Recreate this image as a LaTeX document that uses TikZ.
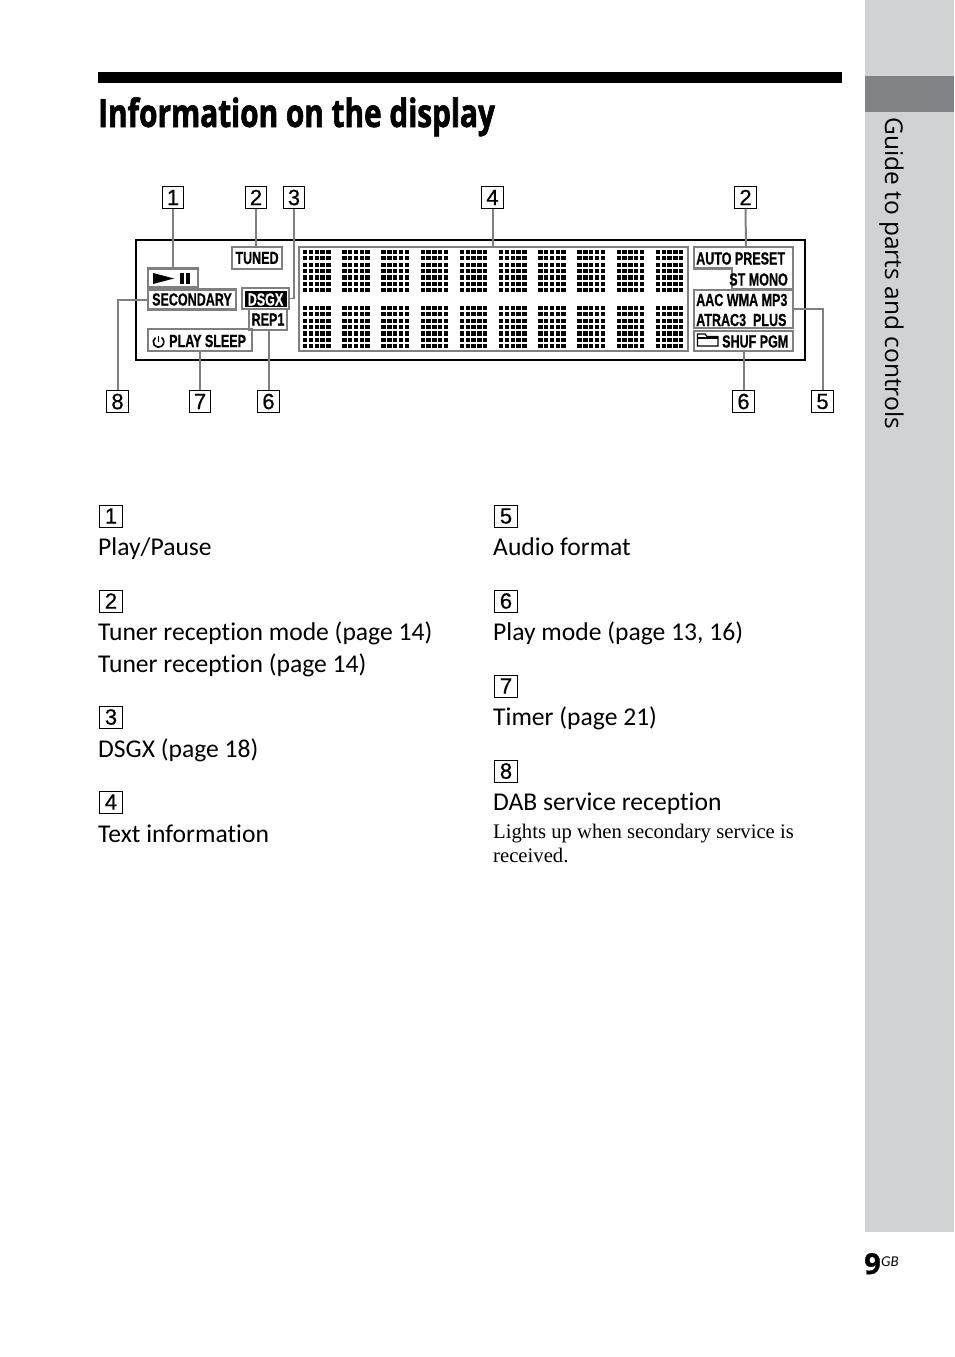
\documentclass[tikz,border=0pt]{standalone}
\usepackage{fontspec}
\setmainfont[Ligatures=NoCommon]{Carlito}
\newfontfamily\headfont[FakeStretch=0.763,FakeBold=1.6]{Open Sans Bold}
\newfontfamily\lcdfont[FakeStretch=0.716,FakeBold=0.6]{Liberation Sans Bold}
\newfontfamily\notefont{Liberation Serif}
\newfontfamily\numfont[FakeBold=0.5]{Liberation Sans}
\newfontfamily\sidefont{Open Sans}
\newfontfamily\pagefont[FakeBold=1]{Open Sans Bold}
\usetikzlibrary{positioning, calc}
\definecolor{sidegray}{HTML}{D1D2D4}
\definecolor{tabgray}{HTML}{808285}
\definecolor{linegray}{HTML}{808080}

\tikzset{
  numbox/.style={draw=black,line width=1pt,minimum width=21.5pt,minimum height=21.5pt,inner sep=0pt,
    font=\fontsize{22}{22}\selectfont\numfont},
  itembox/.style={numbox,minimum width=22.5pt,minimum height=22pt},
  lcdbox/.style={draw=linegray,line width=2.4pt,inner sep=0pt,font=\fontsize{17.5}{17.5}\selectfont\lcdfont},
  lcdtext/.style={inner sep=0pt,font=\fontsize{17.5}{17.5}\selectfont\lcdfont},
  leadline/.style={draw=linegray,line width=2pt},
  thinlead/.style={draw=linegray,line width=1.2pt},
  itemtext/.style={anchor=base west,inner sep=0pt,font=\fontsize{25.6}{25.6}\selectfont},
  notetext/.style={anchor=base west,inner sep=0pt,font=\fontsize{20.7}{20.7}\selectfont\notefont},
}

\begin{document}
\begin{tikzpicture}[x=1pt,y=-1pt]
\useasboundingbox (0,0) rectangle (954,1357);

% ==================== Side tab ====================
\fill[sidegray] (865,0) rectangle (954,1232);
\fill[tabgray] (865,76) rectangle (954,112);
\node[rotate=-90,anchor=base west,inner sep=0pt,font=\fontsize{24.5}{24.5}\selectfont\sidefont] (sidetitle) at (885,117) {Guide to parts and controls};
\node[anchor=base west,inner sep=0pt,font=\fontsize{29}{29}\selectfont\pagefont] (pagenum) at (864,1274) {9};
\node[anchor=base west,inner sep=0pt,font=\fontsize{15}{15}\selectfont\itshape] (pagegb) at (881,1266) {GB};

% ==================== Title ====================
\fill[black] (98,72) rectangle (842,83);
\node[anchor=base west,inner sep=0pt,font=\fontsize{39}{39}\selectfont\headfont] (title) at (98,127) {Information on the display};

% ==================== Display ====================
\draw[black,line width=1.8pt] (136,240) rectangle (805,360);

% Dot panel
\draw[linegray,line width=2.4pt] (299,247) rectangle (688,351);
\foreach \col in {0,...,9} {
  \foreach \i in {0,...,4} {
    \foreach \j in {0,...,6} {
      \fill[black] ({303+\col*39.2+\i*5.8},{250+\j*6.35}) rectangle +(4.4,4.1);
      \fill[black] ({303+\col*39.2+\i*5.8},{306+\j*6.35}) rectangle +(4.4,4.1);
    }
  }
}

% Left labels
\node[draw=linegray,line width=2.4pt,minimum width=50pt,minimum height=19pt,inner sep=0pt] (playbox) at (173,278) {};
\fill[black] (153,273) -- (174,278.5) -- (153,284) -- cycle;
\fill[black] (180,273) rectangle (184,284);
\fill[black] (186,273) rectangle (190,284);
\node[lcdbox,minimum width=50pt,minimum height=22pt] (tuned) at (257,258) {TUNED};
\node[lcdbox,minimum width=88pt,minimum height=20pt] (secondary) at (192,299.5) {SECONDARY};
\node[lcdbox,minimum width=47pt,minimum height=21pt] (dsgx) at (265.5,298.5) {};
\fill[black] (245,291) rectangle (287,307);
\node[lcdtext,text=white] (dsgxtext) at (265.5,299.5) {DSGX};
\node[lcdbox,minimum width=38pt,minimum height=21pt] (repone) at (268,319.5) {REP1};
\node[lcdbox,minimum width=104pt,minimum height=22pt] (sleep) at (200,340) {};
\node[lcdtext,anchor=west] (sleeptext) at (169,341) {PLAY SLEEP};
\draw[black,line width=1.6pt] (158.5,336) -- (158.5,342);
\draw[black,line width=1.6pt] (155.5,337.6) arc[start angle=235,end angle=-55,radius=5.3];

% Right labels
\draw[linegray,line width=2.4pt] (694,247) -- (793,247) -- (793,289.5) -- (732,289.5) -- (732,268.5) -- (694,268.5) -- cycle;
\node[lcdtext,anchor=west] (autopreset) at (696,258.5) {AUTO PRESET};
\node[lcdtext,anchor=east] (stmono) at (788,279.5) {ST MONO};
\coordinate (autotop) at (746,247);
\node[lcdbox,minimum width=99pt,minimum height=38.5pt] (audiobox) at (743.5,309) {};
\node[lcdtext,anchor=west] (aac) at (696,300) {AAC WMA MP3};
\node[lcdtext,anchor=west] (atrac) at (696,320) {ATRAC3\ \ PLUS};
\node[lcdbox,minimum width=99pt,minimum height=20pt] (shufbox) at (743.5,341) {};
\node[lcdtext,anchor=west] (shuf) at (722,341.5) {SHUF PGM};
\draw[black,line width=1.2pt] (697.5,346) -- (697.5,334) -- (705,334) -- (707,336.5) -- (718,336.5) -- (718,346) -- cycle;
\draw[black,line width=1.2pt] (697.5,338) -- (718,338);
\coordinate (paneltop) at (492.5,247);

% Numbers above and below
\node[numbox] (topone) at (173,197.5) {1};
\node[numbox] (toptwo) at (256,197.5) {2};
\node[numbox] (topthree) at (294,197.5) {3};
\node[numbox] (topfour) at (492.5,197.5) {4};
\node[numbox] (toptwob) at (745.5,197.5) {2};
\node[numbox] (loweight) at (117.5,401.5) {8};
\node[numbox] (lowseven) at (200,401.5) {7};
\node[numbox] (lowsix) at (268.5,401.5) {6};
\node[numbox] (lowsixb) at (743.5,401.5) {6};
\node[numbox] (lowfive) at (822.5,401.5) {5};

% Lead lines
\draw[leadline] (topone.south) -- (topone.south |- playbox.north);
\draw[leadline] (toptwo.south) -- (toptwo.south |- tuned.north);
\draw[thinlead] (topthree.south) |- (dsgx.east);
\draw[leadline] (topfour.south) -- (paneltop);
\draw[leadline] (toptwob.south) -- (autotop);
\draw[leadline] (loweight.north) |- (secondary.west);
\draw[leadline] (lowseven.north) -- (lowseven.north |- sleep.south);
\draw[leadline] (lowsix.north) -- (lowsix.north |- repone.south);
\draw[leadline] (lowsixb.north) -- (shufbox.south);
\draw[leadline] (lowfive.north) |- (audiobox.east);

% ==================== Legend ====================
\node[itembox] (itemone) at (111,516) {1};
\node[itemtext] (playpause) at (98,555) {Play/Pause};
\node[itembox] (itemtwo) at (111,601) {2};
\node[itemtext] (tunermode) at (98,640) {Tuner reception mode (page 14)};
\node[itemtext] (tunerrec) at (98,672) {Tuner reception (page 14)};
\node[itembox] (itemthree) at (111,717) {3};
\node[itemtext] (dsgxitem) at (98,757) {DSGX (page 18)};
\node[itembox] (itemfour) at (111,802) {4};
\node[itemtext] (textinfo) at (98,842) {Text information};

\node[itembox] (itemfive) at (506,516) {5};
\node[itemtext] (audioformat) at (493,555) {Audio format};
\node[itembox] (itemsix) at (506,601) {6};
\node[itemtext] (playmode) at (493,640) {Play mode (page 13, 16)};
\node[itembox] (itemseven) at (506,686) {7};
\node[itemtext] (timer) at (493,725) {Timer (page 21)};
\node[itembox] (itemeight) at (506,771) {8};
\node[itemtext] (dabservice) at (493,810) {DAB service reception};
\node[notetext] (lightsup) at (493,838) {Lights up when secondary service is};
\node[notetext] (received) at (493,862) {received.};

\end{tikzpicture}
\end{document}
